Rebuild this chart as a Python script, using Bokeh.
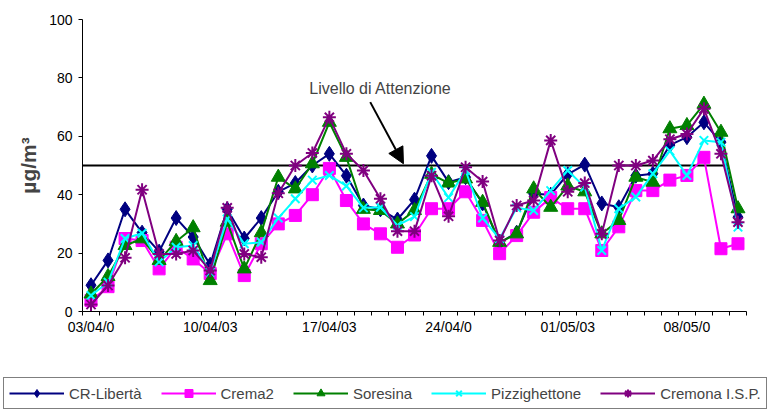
from bokeh.plotting import figure
from bokeh.layouts import column
from bokeh.models import (FixedTicker, Legend, LegendItem, Arrow, NormalHead,
                          Label, Range1d)
from bokeh.embed import file_html
from bokeh.resources import INLINE

# ---------------- data ----------------
days = list(range(39))  # 03/04/03 .. 11/05/03
tick_days = [0, 7, 14, 21, 28, 35]
tick_labels = ["03/04/0", "10/04/03", "17/04/03", "24/04/0", "01/05/03", "08/05/0"]

cr_liberta = [9, 17.5, 35, 27, 20.5, 32, 25.5, 16, 35, 25, 32, 41, 44, 50, 54, 46.5,
              36.3, 35, 31.5, 38.3, 53.3, 44.3, 46, 37, 23.5, 27, 40.3, 40, 47, 50.3,
              37, 35.7, 46.5, 47.2, 57, 59.7, 64.8, 58, 32.3]
crema2 = [3.8, 8.5, 25, 24.3, 14.6, 22, 18, 13, 26.6, 12.3, 23.2, 30, 32.9, 40, 49, 38,
          30, 26.6, 22, 26.2, 35.2, 35.2, 41, 31.2, 19.8, 26, 34, 39, 35.2, 35.2,
          20.9, 29, 41.4, 41.4, 45, 46.6, 52.8, 21.5, 23.2]
soresina = [6, 12, 22.6, 24.9, 17.5, 24, 28.7, 10.6, 30.6, 14.6, 27, 46, 42, 50.6, 64.8,
            52.8, 35, 34.6, 30, 34.6, 47, 44, 45.4, 37.4, 23.7, 26.6, 42, 35.7, 43, 41,
            26.6, 31.2, 46, 44.3, 62.6, 63.7, 71, 61.4, 35.2]
pizzighettone = [5.5, 10, 25, 26.8, 17, 22, 22.6, 13.5, 31.7, 23.2, 23.7, 32, 38.6, 45,
                 46.6, 43, 35.5, 35.7, 29.5, 32.5, 47.7, 39, 48.3, 32, 24.9, 35.5, 34.6,
                 41.4, 48.3, 42.6, 20.9, 35.2, 39.2, 47.2, 55, 46.6, 58.6, 58, 28.9]
cremona_isp = [2.4, 8.9, 18.4, 41.7, 19.7, 19.7, 20.9, 14, 35.5, 19.7, 18.6, 40.5, 50,
               54.3, 66.5, 54, 48.3, 38.6, 27.5, 27.5, 46.5, 32.6, 49.4, 44.5, 24.3,
               36.3, 38, 58.6, 41, 44, 26.6, 50, 50, 51.7, 59, 60.8, 69.4, 54, 30.6]

limit_x = [-0.6, 37.4]
limit_y = [50, 50]
note_text = "Livello di Attenzione"
note_x, note_y = 17.0, 76.3
arrow_start = (16.4, 71.7)
arrow_end = (18.35, 50.6)

FONT = "Liberation Sans"

series = [
    ("CR-Libertà", cr_liberta, "#000080", "diamond", 15),
    ("Crema2", crema2, "#FF00FF", "square", 12),
    ("Soresina", soresina, "#008000", "triangle", 14),
    ("Pizzighettone", pizzighettone, "#00FFFF", "x", 12),
    ("Cremona I.S.P.", cremona_isp, "#800080", "asterisk", 13),
]


def add_series(fig, xs, vals, color, marker, size):
    lr = fig.line(xs, vals, line_color=color, line_width=2)
    if marker in ("x", "asterisk"):
        sr = fig.scatter(xs, vals, marker=marker, size=size, line_color=color,
                         line_width=2, fill_color=None)
    else:
        sr = fig.scatter(xs, vals, marker=marker, size=size, line_color=color,
                         fill_color=color, line_width=1)
    return lr, sr


p = figure(width=773, height=374, x_range=Range1d(-0.5, 38.5), y_range=Range1d(0, 100),
           output_backend="svg", toolbar_location=None,
           min_border_left=82, min_border_right=27, min_border_top=19, min_border_bottom=63)
p.outline_line_color = None
p.xgrid.visible = False
p.ygrid.visible = False
p.frame_align = False

# threshold line
p.line(limit_x, limit_y, line_color="black", line_width=2)

for name, vals, color, marker, size in series:
    add_series(p, days, vals, color, marker, size)

# axes
p.yaxis.ticker = FixedTicker(ticks=[0, 20, 40, 60, 80, 100], minor_ticks=[])
p.yaxis.axis_label = "µg/m³"
p.yaxis.axis_label_text_font = FONT
p.yaxis.axis_label_text_font_style = "bold"
p.yaxis.axis_label_text_font_size = "21px"
p.yaxis.axis_label_standoff = 6
p.yaxis.major_tick_out = 4
p.yaxis.major_tick_in = 0
p.yaxis.major_label_standoff = 6

p.xaxis.ticker = FixedTicker(ticks=tick_days, minor_ticks=[d - 0.5 for d in range(40)])
p.xaxis.major_label_overrides = {d: l for d, l in zip(tick_days, tick_labels)}
p.xaxis.major_tick_out = 0
p.xaxis.major_tick_in = 0
p.xaxis.minor_tick_out = 4
p.xaxis.minor_tick_in = 0
p.xaxis.major_label_standoff = 3

for ax in (p.xaxis, p.yaxis):
    ax.axis_line_color = "black"
    ax.major_tick_line_color = "black"
    ax.minor_tick_line_color = "black"
    ax.major_label_text_font = FONT
    ax.major_label_text_font_size = "14px"
    ax.major_label_text_color = "black"

# annotation
p.add_layout(Label(x=note_x, y=note_y, text=note_text, text_align="center",
                   text_baseline="middle", text_font=FONT, text_font_size="16px"))
p.add_layout(Arrow(end=NormalHead(size=16, fill_color="black", line_color="black"),
                   x_start=arrow_start[0], y_start=arrow_start[1],
                   x_end=arrow_end[0], y_end=arrow_end[1],
                   line_color="black", line_width=2))

# legend strip below the chart
lg = figure(width=773, height=35, x_range=Range1d(0, 1), y_range=Range1d(0, 1),
            output_backend="svg", toolbar_location=None, min_border=0,
            x_axis_location=None, y_axis_location=None)
lg.outline_line_color = None
lg.xgrid.visible = False
lg.ygrid.visible = False
lg.frame_align = False
items = []
for name, vals, color, marker, size in series:
    lr, sr = add_series(lg, [-5], [-5], color, marker, size)
    items.append(LegendItem(label=name, renderers=[lr, sr]))

legend = Legend(items=items, orientation="horizontal", location="top_left",
                label_text_font=FONT, label_text_font_size="15px",
                glyph_width=55, glyph_height=20, label_standoff=5, spacing=19,
                padding=5, margin=3, border_line_color="black", border_line_width=1,
                background_fill_color="white", background_fill_alpha=1.0)
lg.add_layout(legend)

layout = column(p, lg, spacing=0)
open("out.html", "w").write(file_html(layout, INLINE))
